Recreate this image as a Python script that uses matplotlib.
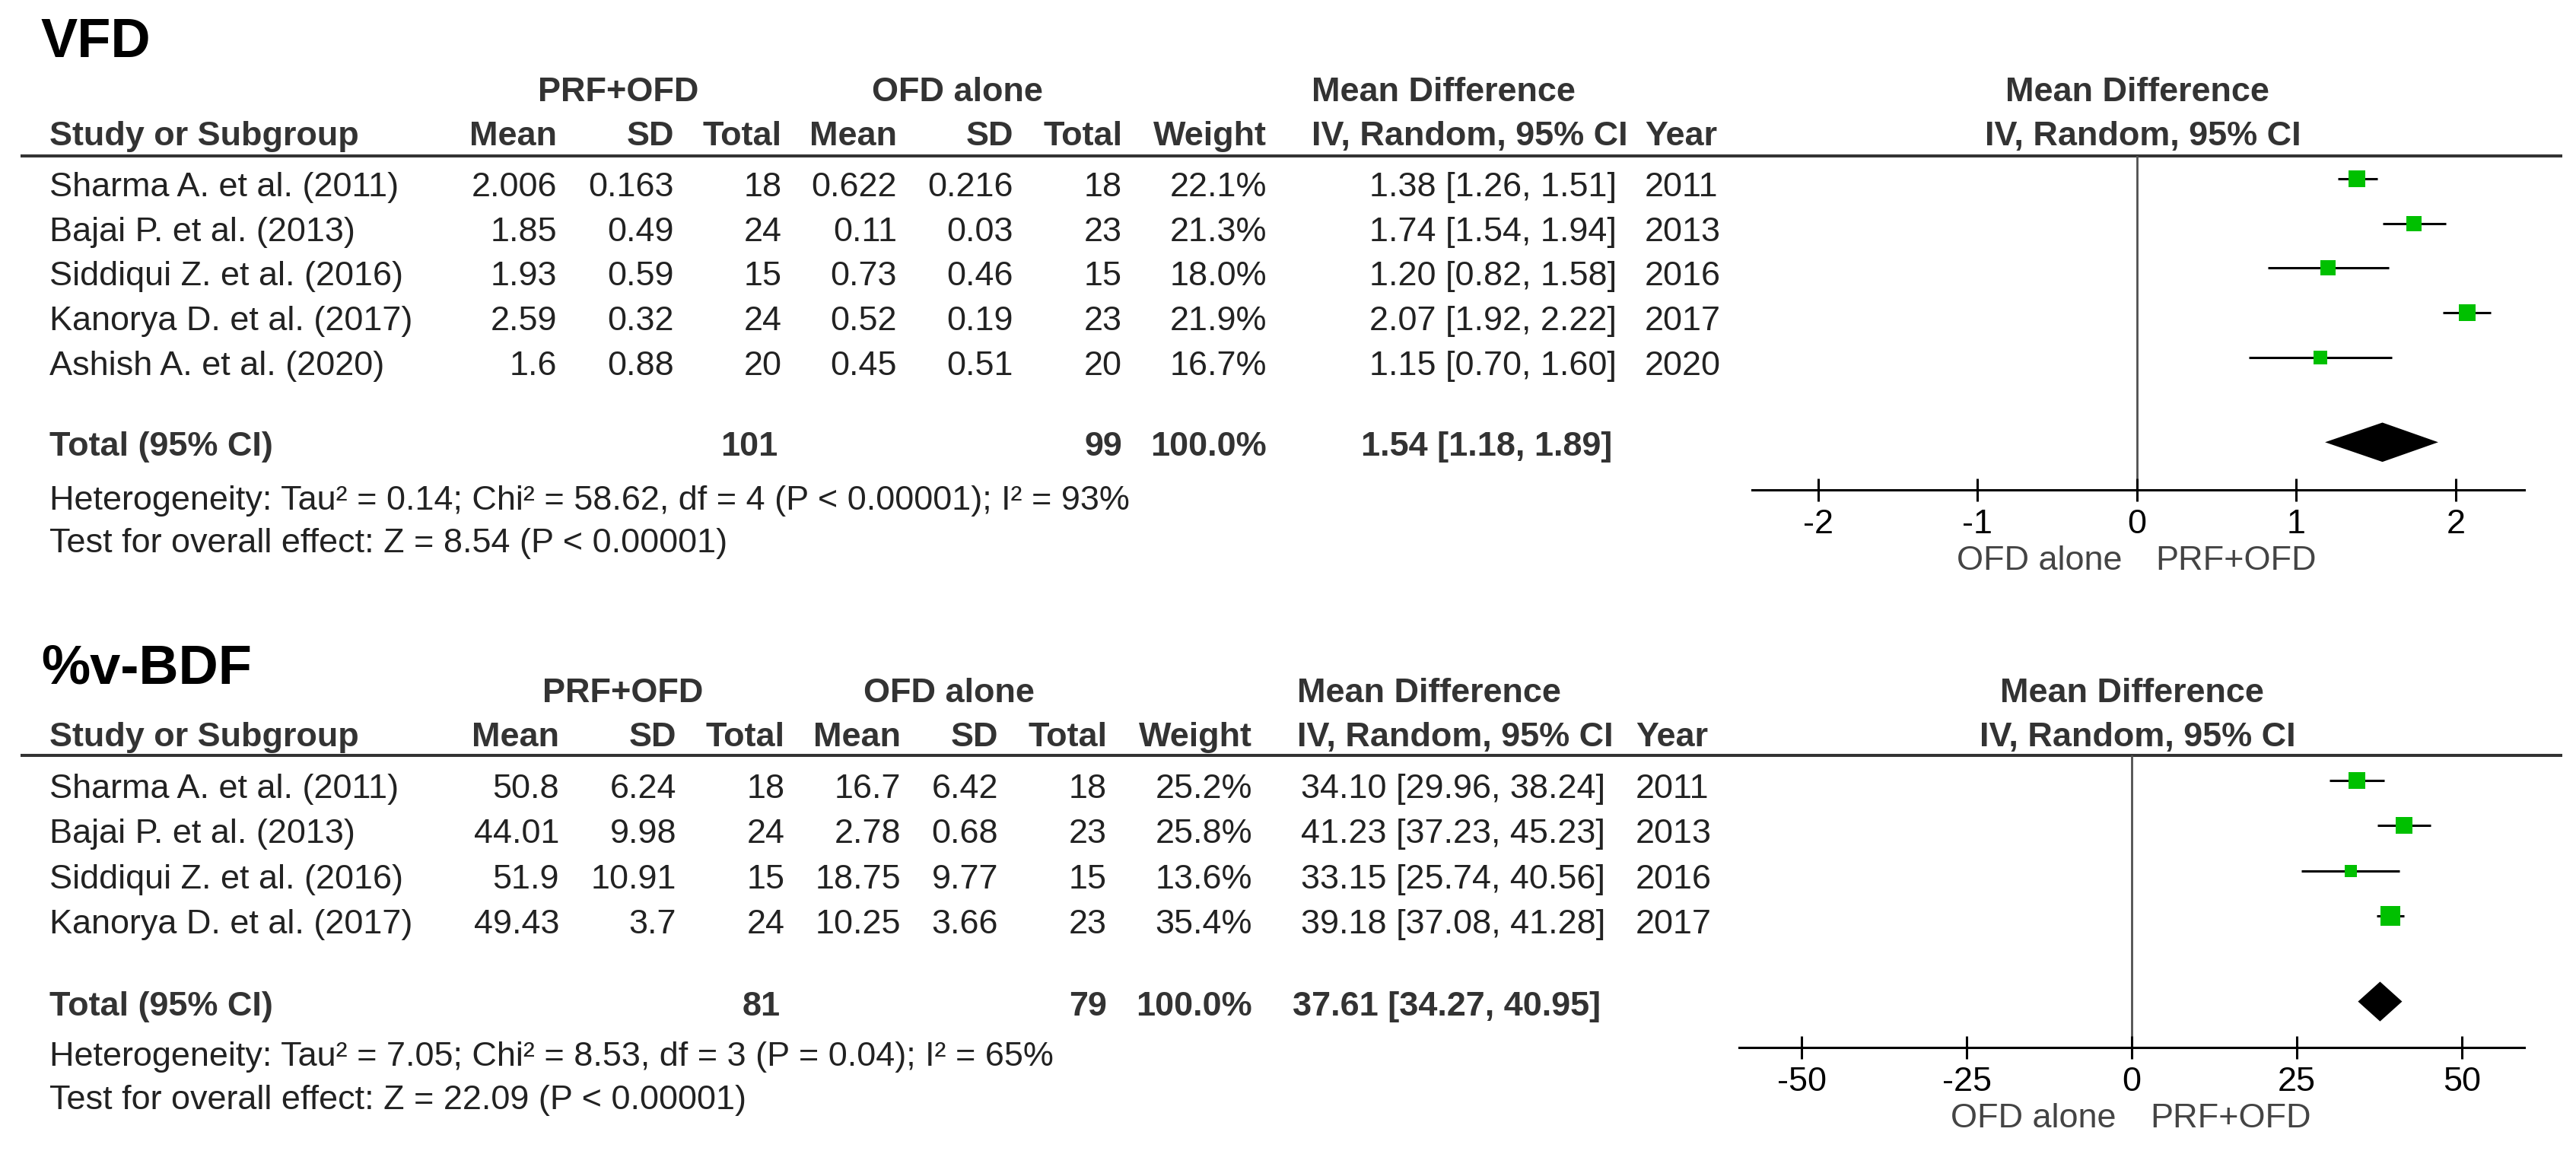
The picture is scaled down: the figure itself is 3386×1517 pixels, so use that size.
import numpy as np
import matplotlib
matplotlib.use("Agg")
import matplotlib.pyplot as plt

plt.rcParams['font.family'] = ['Liberation Sans', 'DejaVu Sans']
plt.rcParams['axes.unicode_minus'] = False

W, H = 3386, 1517
DPI = 200

# ---------- data: VFD ----------
vfd_studies = ['Sharma A. et al. (2011)', 'Bajai P. et al. (2013)', 'Siddiqui Z. et al. (2016)',
               'Kanorya D. et al. (2017)', 'Ashish A. et al. (2020)']
vfd_prf_mean = ['2.006', '1.85', '1.93', '2.59', '1.6']
vfd_prf_sd = ['0.163', '0.49', '0.59', '0.32', '0.88']
vfd_prf_n = [18, 24, 15, 24, 20]
vfd_ofd_mean = ['0.622', '0.11', '0.73', '0.52', '0.45']
vfd_ofd_sd = ['0.216', '0.03', '0.46', '0.19', '0.51']
vfd_ofd_n = [18, 23, 15, 23, 20]
vfd_weight = [22.1, 21.3, 18.0, 21.9, 16.7]
vfd_md = [1.38, 1.74, 1.20, 2.07, 1.15]
vfd_lo = [1.26, 1.54, 0.82, 1.92, 0.70]
vfd_hi = [1.51, 1.94, 1.58, 2.22, 1.60]
vfd_year = [2011, 2013, 2016, 2017, 2020]
vfd_total = [1.54, 1.18, 1.89]
vfd_total_n = [101, 99]
vfd_ticks = [-2, -1, 0, 1, 2]
vfd_het = 'Heterogeneity: Tau² = 0.14; Chi² = 58.62, df = 4 (P < 0.00001); I² = 93%'
vfd_test = 'Test for overall effect: Z = 8.54 (P < 0.00001)'

# ---------- data: %v-BDF ----------
bdf_studies = ['Sharma A. et al. (2011)', 'Bajai P. et al. (2013)', 'Siddiqui Z. et al. (2016)',
               'Kanorya D. et al. (2017)']
bdf_prf_mean = ['50.8', '44.01', '51.9', '49.43']
bdf_prf_sd = ['6.24', '9.98', '10.91', '3.7']
bdf_prf_n = [18, 24, 15, 24]
bdf_ofd_mean = ['16.7', '2.78', '18.75', '10.25']
bdf_ofd_sd = ['6.42', '0.68', '9.77', '3.66']
bdf_ofd_n = [18, 23, 15, 23]
bdf_weight = [25.2, 25.8, 13.6, 35.4]
bdf_md = [34.10, 41.23, 33.15, 39.18]
bdf_lo = [29.96, 37.23, 25.74, 37.08]
bdf_hi = [38.24, 45.23, 40.56, 41.28]
bdf_year = [2011, 2013, 2016, 2017]
bdf_total = [37.61, 34.27, 40.95]
bdf_total_n = [81, 79]
bdf_ticks = [-50, -25, 0, 25, 50]
bdf_het = 'Heterogeneity: Tau² = 7.05; Chi² = 8.53, df = 3 (P = 0.04); I² = 65%'
bdf_test = 'Test for overall effect: Z = 22.09 (P < 0.00001)'

# ---------- layout (pixels) ----------
lay_vfd = dict(title_y=75, head1=133, head2=191, line=205, row0=235, dy=58.7, axis=644,
               het=670, test=726, cols=[732, 886, 1028, 1179, 1332, 1475, 1665], grp=[813, 1258],
               md_left=1724, ci_right=2125, year_left=2162, ax_x=(2303, 3318), zero=2809,
               xlim=(-2.415, 2.43))
lay_bdf = dict(title_y=898, head1=923, head2=981, line=993, row0=1026, dy=59.3, axis=1377,
               het=1401, test=1458, cols=[735, 889, 1032, 1184, 1312, 1455, 1646], grp=[819, 1247],
               md_left=1705, ci_right=2110, year_left=2150, ax_x=(2286, 3318), zero=2802,
               xlim=(-59.45, 59.45))

FS = 16.2
TXT = '#222222'
BOLD = '#333333'
GREEN = '#00c000'

fig = plt.figure(figsize=(W / DPI, H / DPI), dpi=DPI)
bg = fig.add_axes([0, 0, 1, 1])
bg.set_xlim(0, W)
bg.set_ylim(H, 0)
bg.axis('off')


def txt(x, y, s, ha='left', bold=False, color=None, size=FS):
    bg.text(x, y, s, ha=ha, va='baseline', fontsize=size,
            fontweight='bold' if bold else 'normal',
            color=color if color else (BOLD if bold else TXT))


def draw_panel(title, L, studies, pm, psd, pn, om, osd, on, wts, md, lo, hi, years,
               total, total_n, ticks, het, test):
    c = L['cols']
    n = len(studies)
    txt(54, L['title_y'], title, bold=True, color='black', size=26)

    # header rows
    txt(L['grp'][0], L['head1'], 'PRF+OFD', ha='center', bold=True)
    txt(L['grp'][1], L['head1'], 'OFD alone', ha='center', bold=True)
    txt(L['md_left'], L['head1'], 'Mean Difference', bold=True)
    txt(L['zero'], L['head1'], 'Mean Difference', ha='center', bold=True)
    txt(65, L['head2'], 'Study or Subgroup', bold=True)
    for x, s in zip(c, ['Mean', 'SD', 'Total', 'Mean', 'SD', 'Total', 'Weight']):
        txt(x, L['head2'], s, ha='right', bold=True)
    txt(L['md_left'], L['head2'], 'IV, Random, 95% CI', bold=True)
    txt(L['year_left'], L['head2'], 'Year', bold=True)
    txt(L['zero'] + 8, L['head2'], 'IV, Random, 95% CI', ha='center', bold=True)
    bg.plot([27, 3368], [L['line'], L['line']], color='#333333', lw=1.45, solid_capstyle='butt')

    # study rows
    for i in range(n):
        y = L['row0'] + i * L['dy'] + 23
        txt(65, y, studies[i])
        vals = [pm[i], psd[i], str(pn[i]), om[i], osd[i], str(on[i]), f'{wts[i]:.1f}%']
        for x, s in zip(c, vals):
            txt(x, y, s, ha='right')
        txt(L['ci_right'], y, f'{md[i]:.2f} [{lo[i]:.2f}, {hi[i]:.2f}]', ha='right')
        txt(L['year_left'], y, str(years[i]))

    # total row
    t_idx = n + 0.9
    yt = L['row0'] + t_idx * L['dy'] + 18
    txt(65, yt, 'Total (95% CI)', bold=True)
    txt(c[2] - 6, yt, str(total_n[0]), ha='right', bold=True)
    txt(c[5], yt, str(total_n[1]), ha='right', bold=True)
    txt(c[6], yt, '100.0%', ha='right', bold=True)
    txt(L['ci_right'] - 6, yt, f'{total[0]:.2f} [{total[1]:.2f}, {total[2]:.2f}]', ha='right', bold=True)
    txt(65, L['het'], het)
    txt(65, L['test'], test)

    # forest plot
    x0, x1 = L['ax_x']
    ax = fig.add_axes([x0 / W, 1 - L['axis'] / H, (x1 - x0) / W, (L['axis'] - L['line']) / H])
    ax.patch.set_visible(False)
    ax.set_xlim(*L['xlim'])
    ax.set_ylim((L['axis'] - L['row0']) / L['dy'], (L['line'] - L['row0']) / L['dy'])
    ax.axvline(0, color='#505050', lw=1.0, zorder=1)
    rows = np.arange(n)
    ax.hlines(rows, lo, hi, color='black', lw=1.1, zorder=2)
    for i in range(n):
        ax.plot(md[i], rows[i], 's', ms=1.62 * np.sqrt(wts[i]), color=GREEN, mew=0, zorder=3)
    h = 0.44
    ax.fill([total[1], total[0], total[2], total[0]], [t_idx, t_idx - h, t_idx, t_idx + h],
            color='black', lw=0, zorder=3)
    for s in ['top', 'left', 'right']:
        ax.spines[s].set_visible(False)
    ax.spines['bottom'].set_linewidth(1.1)
    ax.spines['bottom'].set_color('black')
    ax.set_yticks([])
    ax.set_xticks(ticks)
    ax.set_xticklabels([str(t) for t in ticks])
    ax.tick_params(axis='x', direction='inout', length=11, width=1.1, labelsize=FS,
                   pad=3.5, colors='black')
    txt(L['zero'] - 20, L['axis'] + 105, 'OFD alone', ha='right', color='#444444')
    txt(L['zero'] + 24, L['axis'] + 105, 'PRF+OFD', color='#444444')


draw_panel('VFD', lay_vfd, vfd_studies, vfd_prf_mean, vfd_prf_sd, vfd_prf_n, vfd_ofd_mean,
           vfd_ofd_sd, vfd_ofd_n, vfd_weight, vfd_md, vfd_lo, vfd_hi, vfd_year,
           vfd_total, vfd_total_n, vfd_ticks, vfd_het, vfd_test)
draw_panel('%v-BDF', lay_bdf, bdf_studies, bdf_prf_mean, bdf_prf_sd, bdf_prf_n, bdf_ofd_mean,
           bdf_ofd_sd, bdf_ofd_n, bdf_weight, bdf_md, bdf_lo, bdf_hi, bdf_year,
           bdf_total, bdf_total_n, bdf_ticks, bdf_het, bdf_test)

fig.savefig('out.png', dpi=DPI)
